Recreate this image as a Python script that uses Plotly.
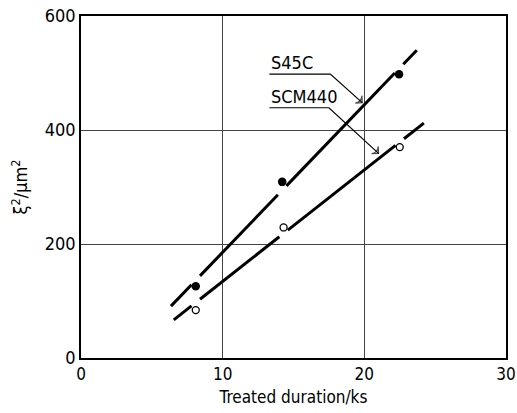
import numpy as np
import plotly.graph_objects as go

# Data points (Treated duration / ks, xi^2 / um^2)
s45c_x = [8.1, 14.2, 22.45]
s45c_y = [126, 309, 498]
scm_x = [8.1, 14.3, 22.5]
scm_y = [84, 229, 370]

# Fitted straight lines (start/end)
s45c_fit_x = [6.35, 23.7]
s45c_fit_y = [91, 540]
scm_fit_x = [6.55, 24.2]
scm_fit_y = [67, 412]

# Leader lines for labels: [label, underline start x, underline end x, underline y, target x, target y]
s45c_label = ["S45C", 13.3, 17.6, 498, 19.85, 448]
scm_label = ["SCM440", 13.3, 17.5, 439, 21.0, 359]

x_ticks = [0, 10, 20, 30]
y_ticks = [0, 200, 400, 600]

FONT = "DejaVu Sans Condensed, DejaVu Sans, sans-serif"
GAP = 0.3


def broken_line(fx, fy, px):
    xs, ys = [], []
    bounds = [fx[0]]
    for p in px:
        bounds += [p - GAP, p + GAP]
    bounds.append(fx[1])
    for i in range(0, len(bounds), 2):
        a, b = bounds[i], bounds[i + 1]
        if b <= a:
            continue
        for v in (a, b):
            xs.append(v)
            ys.append(float(np.interp(v, fx, fy)))
        xs.append(None)
        ys.append(None)
    return xs, ys


fig = go.Figure()
for fx, fy, px in [(s45c_fit_x, s45c_fit_y, s45c_x), (scm_fit_x, scm_fit_y, scm_x)]:
    lx, ly = broken_line(fx, fy, px)
    fig.add_trace(go.Scatter(x=lx, y=ly, mode="lines", line=dict(color="black", width=3),
                             showlegend=False, hoverinfo="skip"))

fig.add_trace(go.Scatter(x=s45c_x, y=s45c_y, mode="markers",
                         marker=dict(size=8.5, color="black", line=dict(width=0)),
                         showlegend=False))
fig.add_trace(go.Scatter(x=scm_x, y=scm_y, mode="markers",
                         marker=dict(size=7, color="white", line=dict(width=1.3, color="black")),
                         showlegend=False))

for name, u0, u1, uy, tx, ty in [s45c_label, scm_label]:
    fig.add_trace(go.Scatter(x=[u0, u1, tx], y=[uy, uy, ty], mode="lines+markers",
                             line=dict(color="black", width=1.2),
                             marker=dict(symbol=["circle", "circle", "arrow-wide-open"],
                                         size=[0, 0, 7], angleref="previous",
                                         color="black", line=dict(width=1.3, color="black")),
                             showlegend=False, hoverinfo="skip"))
    fig.add_annotation(x=u0, y=uy, xref="x", yref="y", text=name, showarrow=False,
                       xanchor="left", yanchor="bottom", yshift=-1,
                       font=dict(family=FONT, size=18, color="black"))

fig.update_xaxes(range=[0, 30], tickvals=x_ticks, showgrid=True, gridcolor="#444", gridwidth=1,
                 showline=True, linecolor="black", linewidth=1.5, mirror=True, zeroline=False,
                 ticks="", ticklabeloverflow="allow", automargin=False,
                 tickfont=dict(family=FONT, size=17, color="black"),
                 title=dict(text="Treated duration/ks", font=dict(family=FONT, size=17, color="black"),
                            standoff=8))
fig.update_yaxes(range=[0, 600], tickvals=y_ticks, showgrid=True, gridcolor="#444", gridwidth=1,
                 showline=True, linecolor="black", linewidth=1.5, mirror=True, zeroline=False,
                 ticks="", ticklabeloverflow="allow", automargin=False,
                 tickfont=dict(family=FONT, size=18, color="black"),
                 title=dict(text="ξ<sup>2</sup>/μm<sup>2</sup>",
                            font=dict(family=FONT, size=18, color="black"), standoff=12))
fig.update_layout(width=517, height=413, margin=dict(l=81, r=11, t=16, b=55),
                  plot_bgcolor="white", paper_bgcolor="white", showlegend=False)

fig.write_html("out.html")
